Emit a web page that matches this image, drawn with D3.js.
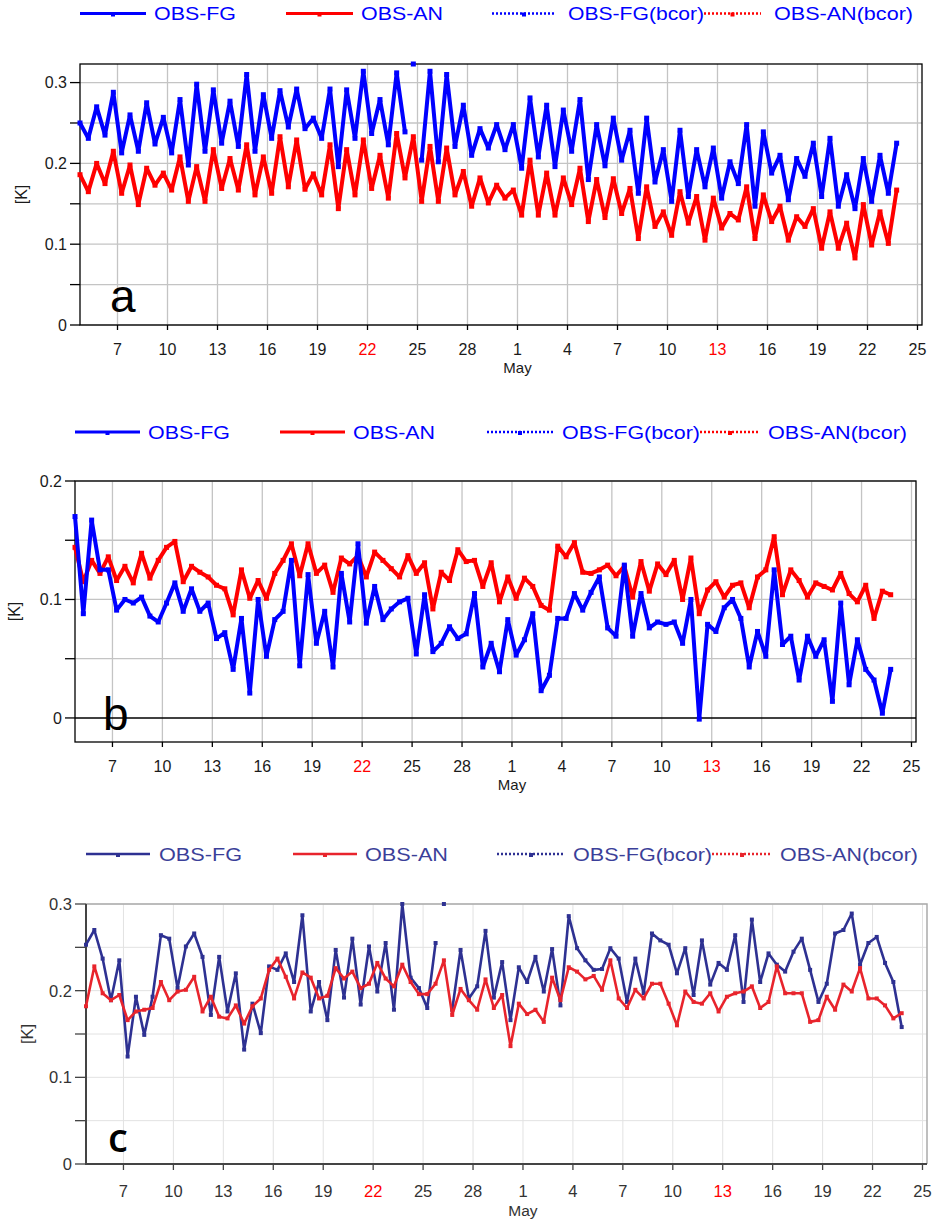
<!DOCTYPE html>
<html>
<head>
<meta charset="utf-8">
<script src="https://cdn.jsdelivr.net/npm/d3@7"></script>
<style>
  body { margin: 0; background: #fff; }
  svg { display: block; font-family: "Liberation Sans", Arial, sans-serif; }
</style>
</head>
<body>
<svg id="chart" width="936" height="1221"></svg>
<script>
// 12-hourly statistics, first value at 2012-04-04 18 UTC
const firstTime = Date.UTC(2012, 3, 4, 18)
const stepHours = 12
const xStart = new Date(Date.UTC(2012, 3, 4, 18))
const xEnd = new Date(Date.UTC(2012, 4, 25, 6, 30))

const legendLabels = ['OBS-FG', 'OBS-AN', 'OBS-FG(bcor)', 'OBS-AN(bcor)']

// panel a
const fgA = [0.250, 0.231, 0.270, 0.235, 0.288, 0.213, 0.260, 0.215, 0.275, 0.224,
  0.257, 0.213, 0.279, 0.198, 0.298, 0.215, 0.291, 0.225, 0.277, 0.221,
  0.310, 0.215, 0.285, 0.231, 0.290, 0.245, 0.292, 0.243, 0.256, 0.231,
  0.292, 0.196, 0.291, 0.231, 0.314, 0.237, 0.279, 0.223, 0.312, 0.239,
  0.340, 0.204, 0.314, 0.202, 0.310, 0.221, 0.272, 0.210, 0.243, 0.219,
  0.248, 0.217, 0.248, 0.194, 0.281, 0.208, 0.272, 0.196, 0.266, 0.215,
  0.279, 0.180, 0.248, 0.197, 0.256, 0.204, 0.241, 0.163, 0.256, 0.177,
  0.217, 0.153, 0.241, 0.159, 0.217, 0.171, 0.219, 0.157, 0.202, 0.175,
  0.248, 0.147, 0.239, 0.188, 0.210, 0.155, 0.206, 0.184, 0.225, 0.159,
  0.231, 0.147, 0.186, 0.144, 0.206, 0.153, 0.210, 0.163, 0.225]
const anA = [0.186, 0.165, 0.200, 0.175, 0.215, 0.163, 0.198, 0.149, 0.194, 0.173,
  0.188, 0.167, 0.208, 0.153, 0.196, 0.153, 0.217, 0.169, 0.206, 0.167,
  0.223, 0.161, 0.208, 0.163, 0.233, 0.171, 0.229, 0.168, 0.187, 0.161,
  0.223, 0.144, 0.217, 0.161, 0.229, 0.169, 0.210, 0.157, 0.237, 0.182,
  0.233, 0.153, 0.221, 0.153, 0.219, 0.161, 0.190, 0.147, 0.182, 0.151,
  0.173, 0.157, 0.167, 0.136, 0.204, 0.136, 0.188, 0.136, 0.182, 0.149,
  0.194, 0.128, 0.180, 0.133, 0.181, 0.138, 0.169, 0.107, 0.171, 0.122,
  0.140, 0.111, 0.165, 0.126, 0.159, 0.105, 0.157, 0.120, 0.138, 0.130,
  0.171, 0.107, 0.161, 0.128, 0.147, 0.105, 0.134, 0.122, 0.144, 0.095,
  0.140, 0.095, 0.126, 0.083, 0.149, 0.099, 0.140, 0.101, 0.167]

// panel b
const fgB = [0.170, 0.088, 0.167, 0.125, 0.125, 0.091, 0.100, 0.097, 0.102, 0.086,
  0.081, 0.097, 0.114, 0.090, 0.109, 0.090, 0.097, 0.067, 0.072, 0.041,
  0.084, 0.021, 0.100, 0.052, 0.083, 0.090, 0.133, 0.044, 0.121, 0.063,
  0.090, 0.043, 0.122, 0.081, 0.147, 0.080, 0.111, 0.083, 0.092, 0.098,
  0.101, 0.054, 0.104, 0.056, 0.063, 0.077, 0.067, 0.071, 0.105, 0.043,
  0.063, 0.039, 0.083, 0.053, 0.066, 0.088, 0.023, 0.036, 0.084, 0.084,
  0.105, 0.091, 0.106, 0.119, 0.076, 0.069, 0.129, 0.069, 0.105, 0.076,
  0.081, 0.079, 0.081, 0.063, 0.100, -0.001, 0.079, 0.073, 0.093, 0.100,
  0.084, 0.043, 0.073, 0.052, 0.125, 0.062, 0.069, 0.032, 0.069, 0.052,
  0.066, 0.014, 0.097, 0.028, 0.066, 0.041, 0.032, 0.004, 0.041]
const anB = [0.144, 0.115, 0.133, 0.122, 0.136, 0.116, 0.128, 0.114, 0.139, 0.118,
  0.133, 0.144, 0.149, 0.115, 0.128, 0.123, 0.119, 0.112, 0.109, 0.087,
  0.125, 0.101, 0.116, 0.101, 0.122, 0.133, 0.147, 0.120, 0.147, 0.122,
  0.129, 0.106, 0.135, 0.130, 0.137, 0.119, 0.140, 0.133, 0.126, 0.119,
  0.137, 0.122, 0.131, 0.092, 0.123, 0.116, 0.142, 0.132, 0.133, 0.111,
  0.131, 0.098, 0.119, 0.101, 0.118, 0.111, 0.095, 0.091, 0.145, 0.136,
  0.148, 0.123, 0.122, 0.125, 0.129, 0.120, 0.128, 0.102, 0.132, 0.107,
  0.130, 0.121, 0.133, 0.100, 0.135, 0.088, 0.108, 0.115, 0.102, 0.112,
  0.114, 0.093, 0.119, 0.125, 0.153, 0.104, 0.125, 0.116, 0.102, 0.114,
  0.111, 0.108, 0.122, 0.105, 0.098, 0.112, 0.084, 0.107, 0.104]

// panel c
const fgC = [0.253, 0.270, 0.237, 0.189, 0.235, 0.124, 0.193, 0.149, 0.193, 0.264,
  0.260, 0.203, 0.251, 0.266, 0.239, 0.172, 0.239, 0.176, 0.220, 0.132,
  0.185, 0.151, 0.228, 0.224, 0.243, 0.210, 0.287, 0.176, 0.210, 0.166,
  0.247, 0.192, 0.260, 0.184, 0.251, 0.199, 0.255, 0.178, 0.300, 0.215,
  0.203, 0.180, 0.255, 0.320, 0.178, 0.247, 0.191, 0.205, 0.269, 0.192,
  0.233, 0.166, 0.227, 0.210, 0.239, 0.199, 0.248, 0.183, 0.286, 0.249,
  0.235, 0.224, 0.225, 0.249, 0.237, 0.187, 0.237, 0.197, 0.266, 0.258,
  0.253, 0.220, 0.249, 0.195, 0.258, 0.207, 0.232, 0.224, 0.264, 0.187,
  0.282, 0.210, 0.243, 0.230, 0.222, 0.245, 0.260, 0.224, 0.187, 0.208,
  0.266, 0.270, 0.289, 0.230, 0.255, 0.262, 0.232, 0.210, 0.158]
const anC = [0.182, 0.228, 0.197, 0.189, 0.195, 0.166, 0.176, 0.178, 0.180, 0.210,
  0.189, 0.199, 0.201, 0.216, 0.176, 0.193, 0.170, 0.168, 0.183, 0.162,
  0.182, 0.191, 0.224, 0.237, 0.216, 0.191, 0.221, 0.215, 0.191, 0.194,
  0.226, 0.214, 0.222, 0.203, 0.208, 0.232, 0.214, 0.205, 0.230, 0.210,
  0.196, 0.196, 0.208, 0.235, 0.172, 0.202, 0.189, 0.178, 0.213, 0.180,
  0.195, 0.136, 0.185, 0.173, 0.178, 0.164, 0.215, 0.189, 0.227, 0.222,
  0.213, 0.217, 0.201, 0.235, 0.191, 0.180, 0.201, 0.191, 0.208, 0.208,
  0.185, 0.160, 0.199, 0.187, 0.185, 0.197, 0.176, 0.193, 0.197, 0.199,
  0.205, 0.180, 0.187, 0.228, 0.197, 0.197, 0.197, 0.164, 0.166, 0.193,
  0.178, 0.207, 0.199, 0.226, 0.191, 0.191, 0.183, 0.168, 0.174]

const oldStyle = {
  blue: '#0000ff', red: '#ff0000', legendText: '#0000ff', lineWidth: 4, markSize: 5, join: 'bevel',
  grid: '#c4c4c4', gridWidth: 1.3, axis: '#000', frame: '#000', text: '#1a1a1a',
  tickFont: 16, yTickLen: 10, xTickLen: 5, letterFont: '"Liberation Sans", Arial, sans-serif',
  letterWeight: 400, letterSize: 46, redFirst: true
}
const newStyle = {
  blue: '#2e3192', red: '#e8242c', legendText: '#3b3f99', lineWidth: 2.6, markSize: 4, join: 'round',
  grid: '#e2e2e2', gridWidth: 1, axis: '#444', frame: '#aaa', text: '#333',
  tickFont: 16.5, yTickLen: 11, xTickLen: 6, letterFont: '"Open Sans", sans-serif',
  letterWeight: 600, letterSize: 40, redFirst: false
}

const panels = [
  { letter: 'a', fg: fgA, an: anA, left: 80, right: 922, top: 64, bottom: 325, yMin: 0, yMax: 0.323,
    legendY: 13.5, kx: 21, letterX: 110, letterY: 312, style: oldStyle,
    legend: [[80, 146, 154, 82], [286, 353, 361, 82], [492, 556, 568, 136], [704, 761, 774, 139]] },
  { letter: 'b', fg: fgB, an: anB, left: 75, right: 916, top: 481, bottom: 742, yMin: -0.0203, yMax: 0.2,
    legendY: 432, kx: 14, letterX: 103, letterY: 730, style: oldStyle,
    legend: [[75, 140, 148, 82], [280, 345, 353, 82], [487, 553, 562, 138], [700, 760, 768, 139]] },
  { letter: 'c', fg: fgC, an: anC, left: 86, right: 927, top: 904, bottom: 1164, yMin: 0, yMax: 0.3,
    legendY: 854, kx: 27, letterX: 108, letterY: 1152, style: newStyle,
    legend: [[86, 150, 159, 83], [293, 357, 365, 83], [497, 565, 573, 139], [712, 772, 780, 138]] }
]

const svg = d3.select('#chart')
const dayFormat = d3.utcFormat('%-d')
const monthFormat = d3.utcFormat('%b')

function drawPanel(p) {
  const s = p.style
  const g = svg.append('g').attr('class', 'panel-' + p.letter)

  const x = d3.scaleUtc().domain([xStart, xEnd]).range([p.left, p.right])
  const y = d3.scaleLinear().domain([p.yMin, p.yMax]).range([p.bottom, p.top])

  const xTicks = x.ticks(d3.utcDay.every(3)).filter(d => d >= xStart && d <= xEnd)
  const yTicks = y.ticks(6).filter(v => v >= p.yMin - 1e-9 && v <= p.yMax + 1e-9)

  /* grid */
  g.append('g').selectAll('line').data(xTicks).join('line')
    .attr('x1', d => x(d)).attr('x2', d => x(d))
    .attr('y1', p.top).attr('y2', p.bottom)
    .attr('stroke', s.grid).attr('stroke-width', s.gridWidth)
  g.append('g').selectAll('line').data(yTicks).join('line')
    .attr('x1', p.left).attr('x2', p.right)
    .attr('y1', d => y(d)).attr('y2', d => y(d))
    .attr('stroke', d => (d === 0 && p.yMin < 0) ? '#000' : s.grid)
    .attr('stroke-width', d => (d === 0 && p.yMin < 0) ? 1.6 : s.gridWidth)

  /* frame */
  if (s === oldStyle) {
    g.append('rect')
      .attr('x', p.left).attr('y', p.top)
      .attr('width', p.right - p.left).attr('height', p.bottom - p.top)
      .attr('fill', 'none').attr('stroke', s.frame).attr('stroke-width', 1.3)
  } else {
    g.append('path')
      .attr('d', `M${p.left},${p.top}H${p.right}V${p.bottom}`)
      .attr('fill', 'none').attr('stroke', s.frame).attr('stroke-width', 1.5)
    g.append('path')
      .attr('d', `M${p.left},${p.top}V${p.bottom}H${p.right}`)
      .attr('fill', 'none').attr('stroke', s.axis).attr('stroke-width', 2)
  }

  /* axes ticks and labels */
  g.append('g').selectAll('line').data(yTicks).join('line')
    .attr('x1', p.left - s.yTickLen).attr('x2', p.left)
    .attr('y1', d => y(d)).attr('y2', d => y(d))
    .attr('stroke', s.axis).attr('stroke-width', 1.3)
  g.append('g').selectAll('text').data(yTicks.filter(v => Math.abs(v * 10 - Math.round(v * 10)) < 1e-6)).join('text')
    .attr('x', p.left - s.yTickLen - 3).attr('y', d => y(d)).attr('dy', '0.36em')
    .attr('text-anchor', 'end').attr('font-size', s.tickFont).attr('fill', s.text)
    .text(d => Math.abs(d) < 1e-9 ? '0' : d3.format('.1f')(d))

  g.append('g').selectAll('line').data(xTicks).join('line')
    .attr('x1', d => x(d)).attr('x2', d => x(d))
    .attr('y1', p.bottom).attr('y2', p.bottom + s.xTickLen)
    .attr('stroke', s.axis).attr('stroke-width', 1.3)
  g.append('g').selectAll('text').data(xTicks).join('text')
    .attr('x', d => x(d)).attr('y', p.bottom + (s === oldStyle ? 30 : 33))
    .attr('text-anchor', 'middle').attr('font-size', s.tickFont)
    .attr('fill', d => d.getUTCDay() === 0 ? '#ff0000' : s.text)
    .text(d => dayFormat(d))
  g.append('g').selectAll('text').data(xTicks.filter(d => d.getUTCDate() === 1)).join('text')
    .attr('x', d => x(d)).attr('y', p.bottom + (s === oldStyle ? 48 : 52))
    .attr('text-anchor', 'middle').attr('font-size', s.tickFont - 1).attr('fill', s.text)
    .text(d => monthFormat(d))

  g.append('text')
    .attr('transform', `translate(${p.kx},${(p.top + p.bottom) / 2}) rotate(-90)`)
    .attr('text-anchor', 'middle').attr('dy', '0.35em')
    .attr('font-size', s.tickFont).attr('fill', s.text)
    .text('[K]')

  /* series */
  const clipId = 'clip-' + p.letter
  svg.append('clipPath').attr('id', clipId).append('rect')
    .attr('x', p.left - 3).attr('y', p.top - 3)
    .attr('width', p.right - p.left + 6).attr('height', p.bottom - p.top + 6)

  const series = [
    { name: 'fg', color: s.blue, values: p.fg },
    { name: 'an', color: s.red, values: p.an }
  ]
  if (s.redFirst) series.reverse()

  series.forEach(sr => {
    const pts = sr.values.map((v, i) => ({ t: new Date(firstTime + i * stepHours * 3600e3), v }))
    const line = d3.line()
      .defined(d => d.v <= p.yMax)
      .x(d => x(d.t))
      .y(d => y(d.v))
    const sg = g.append('g').attr('clip-path', `url(#${clipId})`)
    sg.append('path')
      .datum(pts)
      .attr('d', line)
      .attr('fill', 'none')
      .attr('stroke', sr.color)
      .attr('stroke-width', s.lineWidth)
      .attr('stroke-linejoin', s.join)
    sg.selectAll('rect').data(pts).join('rect')
      .attr('x', d => x(d.t) - s.markSize / 2)
      .attr('y', d => y(Math.min(d.v, p.yMax)) - s.markSize / 2)
      .attr('width', s.markSize).attr('height', s.markSize)
      .attr('fill', sr.color)
  })

  /* panel letter */
  g.append('text')
    .attr('x', p.letterX).attr('y', p.letterY)
    .attr('font-family', s.letterFont)
    .attr('font-weight', s.letterWeight)
    .attr('font-size', s.letterSize)
    .attr('fill', '#000')
    .text(p.letter)

  /* legend */
  const colors = [s.blue, s.red, s.blue, s.red]
  const lg = g.append('g')
  p.legend.forEach((it, i) => {
    const dotted = i >= 2
    lg.append('line')
      .attr('x1', it[0]).attr('x2', it[1])
      .attr('y1', p.legendY).attr('y2', p.legendY)
      .attr('stroke', colors[i])
      .attr('stroke-width', dotted ? 2.4 : (s === oldStyle ? 3 : 2.6))
      .attr('stroke-dasharray', dotted ? '2,2' : null)
    lg.append('rect')
      .attr('x', (it[0] + it[1]) / 2 - 2).attr('y', p.legendY - 1)
      .attr('width', 4).attr('height', 4)
      .attr('fill', colors[i])
    lg.append('text')
      .attr('x', it[2]).attr('y', p.legendY).attr('dy', '0.36em')
      .attr('font-size', 19)
      .attr('fill', s.legendText)
      .attr('textLength', it[3]).attr('lengthAdjust', 'spacingAndGlyphs')
      .text(legendLabels[i])
  })
}

panels.forEach(drawPanel)
</script>
</body>
</html>
